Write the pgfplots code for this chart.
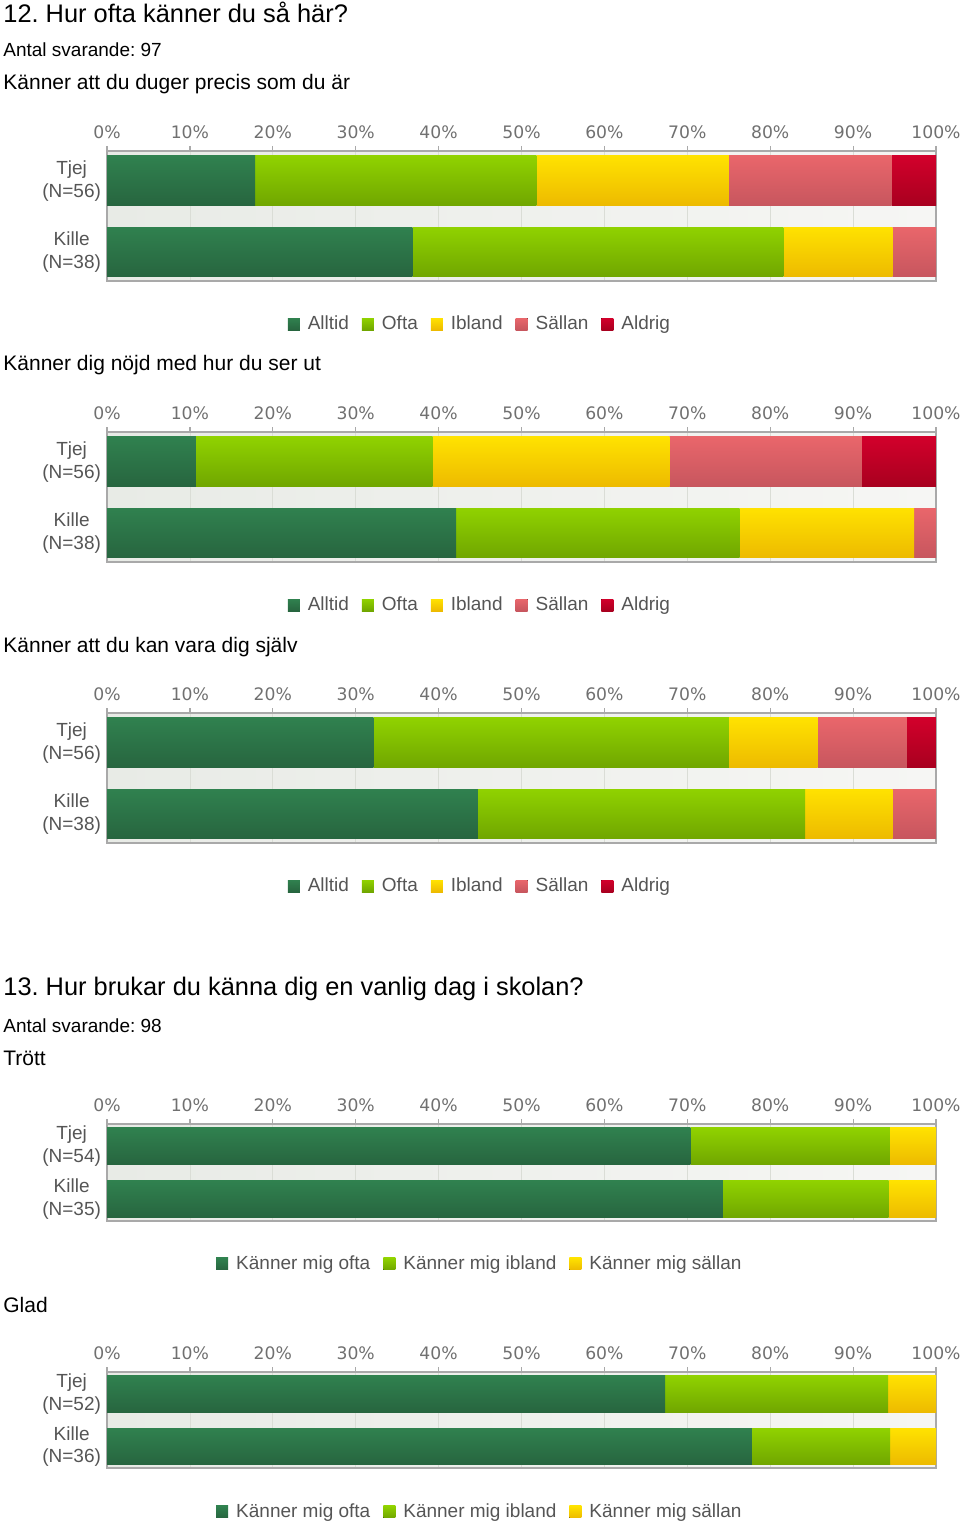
\documentclass[border=0pt]{standalone}
\usepackage{fontspec}
\setmainfont{Liberation Sans}
\newfontfamily\tickfont{DejaVu Sans}
\usepackage{pgfplots}
\pgfplotsset{compat=1.18}
\frenchspacing

\definecolor{aT}{HTML}{30814F}\definecolor{aB}{HTML}{27653F}
\definecolor{oT}{HTML}{90D200}\definecolor{oB}{HTML}{70A600}
\definecolor{iT}{HTML}{FFE200}\definecolor{iB}{HTML}{EDBA00}
\definecolor{sT}{HTML}{E9666B}\definecolor{sB}{HTML}{C7565E}
\definecolor{dT}{HTML}{D2002B}\definecolor{dB}{HTML}{A8001F}
\definecolor{bgL}{HTML}{E8EBE6}\definecolor{bgR}{HTML}{F6F6F4}
\definecolor{gridc}{HTML}{DADDD6}
\definecolor{axc}{HTML}{A9A9A9}
\definecolor{tickc}{HTML}{707070}
\definecolor{labc}{HTML}{555555}

\pgfplotsset{
  sA/.style={draw=none, top color=aT, bottom color=aB},
  sO/.style={draw=none, top color=oT, bottom color=oB},
  sI/.style={draw=none, top color=iT, bottom color=iB},
  sS/.style={draw=none, top color=sT, bottom color=sB},
  sD/.style={draw=none, top color=dT, bottom color=dB},
  qbase/.style={
    xbar stacked, bar width=0.7,
    scale only axis, width=414.5pt,
    anchor=north west,
    xmin=0, xmax=100, ymin=-0.41, ymax=1.42,
    xtick={0,10,...,100},
    xticklabels={0\%,10\%,20\%,30\%,40\%,50\%,60\%,70\%,80\%,90\%,100\%},
    xtick pos=right, xticklabel pos=right,
    tick align=outside, major tick length=2.5pt,
    xtick style={color=axc, line width=0.6pt},
    ytick={0,1}, ytick style={draw=none},
    xticklabel style={font=\tickfont\fontsize{8.6}{10}\selectfont, text=tickc},
    yticklabel style={font=\fontsize{9.5}{11.3}\selectfont, text=labc, align=center, xshift=3pt},
    axis line style={draw=axc, line width=0.6pt},
    axis background/.style={left color=bgL, right color=bgR},
    xmajorgrids, grid style={gridc, line width=0.4pt},
    legend image code/.code={\fill[##1] (0pt,-3pt) rectangle (6pt,3pt); \path (8pt,0pt);},
    legend style={draw=none, fill=none, anchor=center, legend columns=-1,
      font=\fontsize{9.5}{11}\selectfont\color{labc},
      /tikz/every even column/.append style={column sep=4.5pt}},
  },
  qover/.style={qbase, hide axis, axis background/.style={}},
}

\begin{document}
\begin{tikzpicture}
\path[use as bounding box] (0pt,0pt) rectangle (480pt,-762pt);

\node[anchor=base west, inner sep=0, font=\fontsize{12.7}{15}\selectfont] at (1.5pt,-11.35pt) {12. Hur ofta känner du så här?};
\node[anchor=base west, inner sep=0, font=\fontsize{9.5}{11}\selectfont] at (1.5pt,-28.5pt) {Antal svarande: 97};
\node[anchor=base west, inner sep=0, font=\fontsize{10.5}{12}\selectfont] at (1.5pt,-45pt) {Känner att du duger precis som du är};
\node[anchor=base west, inner sep=0, font=\fontsize{10.5}{12}\selectfont] at (1.5pt,-185.5pt) {Känner dig nöjd med hur du ser ut};
\node[anchor=base west, inner sep=0, font=\fontsize{10.5}{12}\selectfont] at (1.5pt,-326pt) {Känner att du kan vara dig själv};
\node[anchor=base west, inner sep=0, font=\fontsize{12.7}{15}\selectfont] at (1.5pt,-497.5pt) {13. Hur brukar du känna dig en vanlig dag i skolan?};
\node[anchor=base west, inner sep=0, font=\fontsize{9.5}{11}\selectfont] at (1.5pt,-516.35pt) {Antal svarande: 98};
\node[anchor=base west, inner sep=0, font=\fontsize{10.5}{12}\selectfont] at (1.5pt,-532.5pt) {Trött};
\node[anchor=base west, inner sep=0, font=\fontsize{10.5}{12}\selectfont] at (1.5pt,-656.35pt) {Glad};

% Chart 1 (Tjej bars + axis, then Kille bars overlaid)
\begin{axis}[qbase, at={(53.5pt,-75.5pt)}, height=65pt,
  yticklabels={{Kille\\(N=38)},{Tjej\\(N=56)}},
  legend style={at={(0.451,-0.331)}}]
\addplot[sA] coordinates {(17.86,1)};
\addplot[sO] coordinates {(33.93,1)};
\addplot[sI] coordinates {(23.21,1)};
\addplot[sS] coordinates {(19.64,1)};
\addplot[sD] coordinates {(5.36,1)};
\legend{Alltid,Ofta,Ibland,Sällan,Aldrig}
\end{axis}
\begin{axis}[qover, at={(53.5pt,-75.5pt)}, height=65pt]
\addplot[sA] coordinates {(36.84,0)};
\addplot[sO] coordinates {(44.74,0)};
\addplot[sI] coordinates {(13.16,0)};
\addplot[sS] coordinates {(5.26,0)};
\end{axis}

% Chart 2
\begin{axis}[qbase, at={(53.5pt,-216pt)}, height=65pt,
  yticklabels={{Kille\\(N=38)},{Tjej\\(N=56)}},
  legend style={at={(0.451,-0.331)}}]
\addplot[sA] coordinates {(10.71,1)};
\addplot[sO] coordinates {(28.57,1)};
\addplot[sI] coordinates {(28.57,1)};
\addplot[sS] coordinates {(23.21,1)};
\addplot[sD] coordinates {(8.93,1)};
\legend{Alltid,Ofta,Ibland,Sällan,Aldrig}
\end{axis}
\begin{axis}[qover, at={(53.5pt,-216pt)}, height=65pt]
\addplot[sA] coordinates {(42.11,0)};
\addplot[sO] coordinates {(34.21,0)};
\addplot[sI] coordinates {(21.05,0)};
\addplot[sS] coordinates {(2.63,0)};
\end{axis}

% Chart 3
\begin{axis}[qbase, at={(53.5pt,-356.5pt)}, height=65pt,
  yticklabels={{Kille\\(N=38)},{Tjej\\(N=56)}},
  legend style={at={(0.451,-0.331)}}]
\addplot[sA] coordinates {(32.14,1)};
\addplot[sO] coordinates {(42.86,1)};
\addplot[sI] coordinates {(10.71,1)};
\addplot[sS] coordinates {(10.71,1)};
\addplot[sD] coordinates {(3.57,1)};
\legend{Alltid,Ofta,Ibland,Sällan,Aldrig}
\end{axis}
\begin{axis}[qover, at={(53.5pt,-356.5pt)}, height=65pt]
\addplot[sA] coordinates {(44.74,0)};
\addplot[sO] coordinates {(39.47,0)};
\addplot[sI] coordinates {(10.53,0)};
\addplot[sS] coordinates {(5.26,0)};
\end{axis}

% Chart 4 Trött
\begin{axis}[qbase, at={(53.5pt,-562pt)}, height=48.5pt,
  yticklabels={{Kille\\(N=35)},{Tjej\\(N=54)}},
  legend style={at={(0.451,-0.443)}}]
\addplot[sA] coordinates {(70.37,1)};
\addplot[sO] coordinates {(24.07,1)};
\addplot[sI] coordinates {(5.56,1)};
\legend{Känner mig ofta,Känner mig ibland,Känner mig sällan}
\end{axis}
\begin{axis}[qover, at={(53.5pt,-562pt)}, height=48.5pt]
\addplot[sA] coordinates {(74.29,0)};
\addplot[sO] coordinates {(20.00,0)};
\addplot[sI] coordinates {(5.71,0)};
\end{axis}

% Chart 5 Glad
\begin{axis}[qbase, at={(53.5pt,-686pt)}, height=48pt,
  yticklabels={{Kille\\(N=36)},{Tjej\\(N=52)}},
  legend style={at={(0.451,-0.458)}}]
\addplot[sA] coordinates {(67.31,1)};
\addplot[sO] coordinates {(26.92,1)};
\addplot[sI] coordinates {(5.77,1)};
\legend{Känner mig ofta,Känner mig ibland,Känner mig sällan}
\end{axis}
\begin{axis}[qover, at={(53.5pt,-686pt)}, height=48pt]
\addplot[sA] coordinates {(77.78,0)};
\addplot[sO] coordinates {(16.67,0)};
\addplot[sI] coordinates {(5.56,0)};
\end{axis}
\end{tikzpicture}
\end{document}
